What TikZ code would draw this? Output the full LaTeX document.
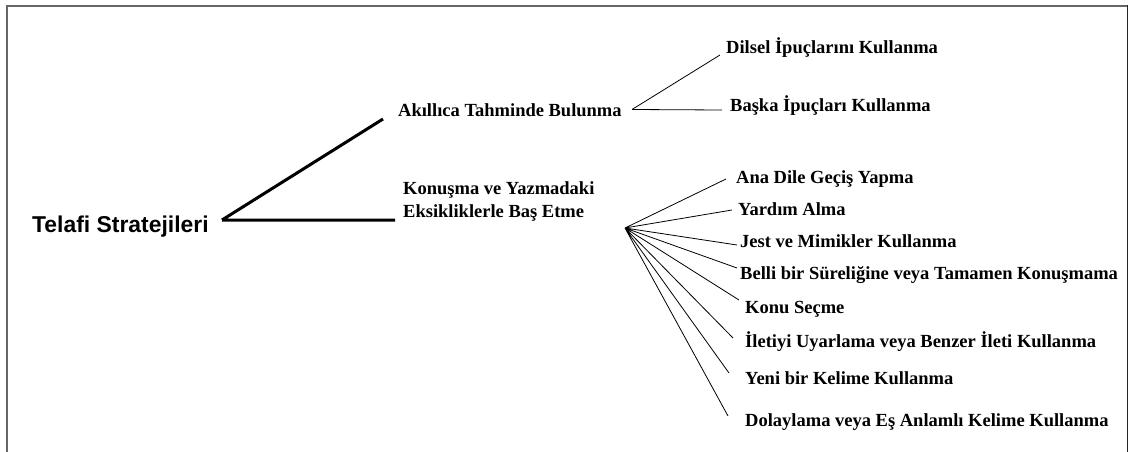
\documentclass[tikz,border=0pt]{standalone}
\usepackage{fontspec}
\setmainfont{Liberation Serif}
\setsansfont{Liberation Sans}
\usetikzlibrary{calc}

\begin{document}
\begin{tikzpicture}[x=1pt, y=-1pt,
    leaf/.style={anchor=base west, inner sep=0pt, font=\bfseries\fontsize{18.5}{23}\selectfont},
    trunk/.style={line width=3pt},
    twig/.style={line width=0.8pt}]
    \useasboundingbox (0,0) rectangle (1128,452);
    %% Frame
    \draw[line width=2pt, black!60] (7,452) -- (7,5.7) -- (1127.3,5.7);
    \draw[line width=1.3pt, black!85] (1127.3,5) -- (1127.3,452);

    %% Root and first level
    \node[leaf, font=\sffamily\bfseries\fontsize{22.9}{26}\selectfont] (telafi) at (32,232) {Telafi Stratejileri};
    \node[leaf] (tahmin) at (398,117) {Akıllıca Tahminde Bulunma};
    \node[leaf, align=left] (eksik) at (403,217) {Konuşma ve Yazmadaki\\Eksikliklerle Baş Etme};
    \coordinate (root) at (222,220);
    \coordinate (r1) at (383,119);
    \coordinate (r2) at (395,220);
    \draw[trunk]
    (root) -- (r1)
    (root) -- (r2)
    ;

    %% Akıllıca tahmin branch
    \node[leaf] (dilsel) at (726,54) {Dilsel İpuçlarını Kullanma};
    \node[leaf] (baska) at (730,111) {Başka İpuçları Kullanma};
    \coordinate (tfan) at (632,109.5);
    \coordinate (t1) at (720,55);
    \coordinate (t2) at (722,110);
    \draw[twig]
    (tfan) -- (t1)
    (tfan) -- (t2)
    ;

    %% Konuşma ve yazma branch
    \node[leaf] (ana) at (736,183) {Ana Dile Geçiş Yapma};
    \node[leaf] (yardim) at (738,215) {Yardım Alma};
    \node[leaf] (jest) at (740,247) {Jest ve Mimikler Kullanma};
    \node[leaf] (belli) at (740,279) {Belli bir Süreliğine veya Tamamen Konuşmama};
    \node[leaf] (konu) at (745,313) {Konu Seçme};
    \node[leaf] (ileti) at (745,347) {İletiyi Uyarlama veya Benzer İleti Kullanma};
    \node[leaf] (yeni) at (745,384) {Yeni bir Kelime Kullanma};
    \node[leaf] (dolay) at (745,426) {Dolaylama veya Eş Anlamlı Kelime Kullanma};
    \coordinate (kfan) at (625,228);
    \coordinate (k1) at (726,179);
    \coordinate (k2) at (732,210);
    \coordinate (k3) at (737,245);
    \coordinate (k4) at (737,268);
    \coordinate (k5) at (739,300);
    \coordinate (k6) at (733,338);
    \coordinate (k7) at (729,373);
    \coordinate (k8) at (728,416);
    \draw[twig]
    (kfan) -- (k1)
    (kfan) -- (k2)
    (kfan) -- (k3)
    (kfan) -- (k4)
    (kfan) -- (k5)
    (kfan) -- (k6)
    (kfan) -- (k7)
    (kfan) -- (k8)
    ;

\end{tikzpicture}
\end{document}
